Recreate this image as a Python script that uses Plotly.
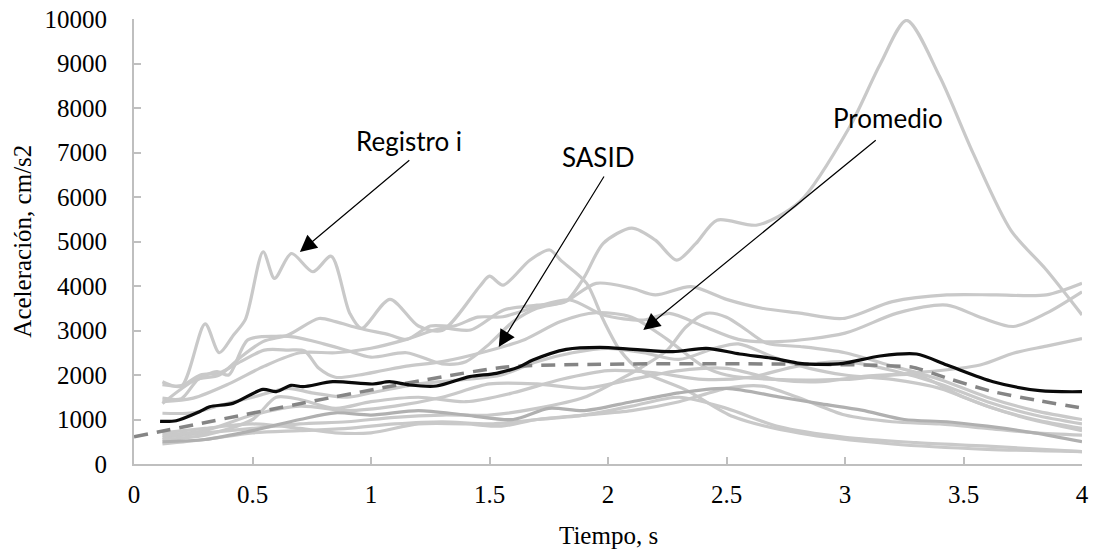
import plotly.graph_objects as go

# ---- data ----
# individual records (gray lines): time (s) and acceleration (cm/s2)
reg1_t = [0.12, 0.25, 0.4, 0.55, 0.7, 0.85, 1.0, 1.15, 1.3, 1.42, 1.56, 1.7, 1.82, 1.9, 1.98, 2.1, 2.2, 2.29, 2.37, 2.46, 2.63, 2.81, 3.02, 3.15, 3.26, 3.4, 3.54, 3.7, 3.85, 4.0]
reg1_a = [1400, 1480, 1800, 2200, 2500, 2500, 2600, 2800, 3050, 3010, 3460, 3570, 3650, 4200, 4960, 5300, 5030, 4580, 4950, 5480, 5370, 5900, 7580, 9000, 9970, 8700, 6990, 5250, 4360, 3350]

reg2_t = [0.12, 0.2, 0.3, 0.36, 0.42, 0.47, 0.545, 0.593, 0.664, 0.755, 0.832, 0.91, 0.96, 1.08, 1.2, 1.3, 1.46, 1.5, 1.557, 1.67, 1.754, 1.8, 1.91, 1.98, 2.05, 2.134, 2.33, 2.53, 2.81, 3.2, 3.6, 4.0]
reg2_a = [1850, 1750, 3150, 2500, 2900, 3250, 4770, 4170, 4730, 4320, 4670, 3390, 3050, 3700, 3100, 3000, 4000, 4220, 4020, 4580, 4810, 4580, 4060, 3240, 2560, 2110, 1660, 1060, 690, 450, 330, 280]

reg3_t = [0.12, 0.2, 0.27, 0.35, 0.4, 0.48, 0.6, 0.68, 0.8, 0.9, 1.0, 1.15, 1.3, 1.4, 1.5, 1.6, 1.7, 1.82, 1.95, 2.1, 2.2, 2.35, 2.5, 2.65, 2.81, 2.99, 3.2, 3.43, 3.64, 3.85, 4.0]
reg3_a = [1480, 1470, 1900, 2075, 2000, 2790, 2870, 2850, 2700, 2550, 2400, 2500, 2250, 2300, 2700, 3200, 3500, 3650, 4060, 3950, 3800, 3985, 3700, 3500, 3390, 3270, 3650, 3800, 3800, 3800, 4060]

reg4_t = [0.12, 0.2, 0.28, 0.36, 0.45, 0.55, 0.65, 0.72, 0.78, 0.85, 0.95, 1.05, 1.15, 1.3, 1.5, 1.65, 1.8, 1.95, 2.1, 2.25, 2.4, 2.5, 2.7, 3.0, 3.3, 3.5, 3.75, 4.0]
reg4_a = [1780, 1760, 2000, 2050, 2300, 2560, 2560, 2540, 2150, 1950, 2000, 2100, 2200, 2300, 2550, 2800, 3200, 3400, 3300, 2800, 2200, 2000, 1900, 1900, 2000, 1500, 1050, 750]

reg5_t = [0.12, 0.26, 0.36, 0.45, 0.544, 0.65, 0.78, 0.85, 0.95, 1.08, 1.15, 1.25, 1.35, 1.45, 1.557, 1.698, 1.84, 1.98, 2.15, 2.26, 2.4, 2.55, 2.72, 3.0, 3.22, 3.43, 3.57, 3.71, 3.85, 4.0]
reg5_a = [1360, 1890, 2000, 2400, 2750, 2900, 3270, 3200, 3050, 2900, 2800, 3100, 3100, 3300, 3310, 3535, 3685, 3348, 3236, 3386, 3100, 2800, 2750, 2940, 3390, 3570, 3300, 3090, 3390, 3870]

reg6_t = [0.12, 0.25, 0.35, 0.5, 0.65, 0.75, 0.9, 1.0, 1.2, 1.4, 1.55, 1.7, 1.85, 2.0, 2.15, 2.3, 2.45, 2.55, 2.7, 2.85, 3.0, 3.2, 3.4, 3.6, 3.8, 4.0]
reg6_a = [1140, 1150, 1300, 1500, 1700, 1600, 1500, 1600, 1800, 1900, 2000, 2300, 2500, 2600, 2500, 2350, 2600, 2700, 2400, 2150, 2000, 1900, 1700, 1300, 1000, 800]

reg7_t = [0.12, 0.3, 0.5, 0.7, 0.9, 1.1, 1.3, 1.5, 1.7, 1.9, 2.05, 2.15, 2.25, 2.33, 2.415, 2.5, 2.584, 2.67, 2.81, 3.0, 3.2, 3.4, 3.6, 3.8, 4.0]
reg7_a = [600, 700, 800, 900, 950, 1050, 1100, 1100, 1250, 1500, 1900, 2200, 2560, 3085, 3386, 3300, 3011, 2712, 2640, 2500, 2200, 1900, 1500, 1200, 1000]

reg8_t = [0.12, 0.3, 0.5, 0.7, 0.9, 1.1, 1.3, 1.5, 1.7, 1.9, 2.1, 2.3, 2.5, 2.72, 2.9, 3.06, 3.3, 3.57, 3.71, 3.85, 4.0]
reg8_a = [650, 750, 1100, 1300, 1200, 1300, 1500, 1800, 1800, 1700, 1900, 2100, 2150, 1890, 1850, 1960, 2050, 2225, 2490, 2650, 2820]

reg9_t = [0.12, 0.3, 0.5, 0.7, 0.85, 1.0, 1.2, 1.4, 1.6, 1.75, 1.9, 2.1, 2.3, 2.5, 2.72, 2.9, 3.07, 3.25, 3.43, 3.6, 3.8, 4.0]
reg9_a = [500, 550, 750, 1000, 1150, 1100, 1200, 1100, 1000, 1250, 1200, 1400, 1600, 1700, 1510, 1350, 1210, 1000, 950, 850, 700, 500]

reg10_t = [0.12, 0.3, 0.5, 0.7, 0.9, 1.1, 1.3, 1.5, 1.7, 1.9, 2.1, 2.3, 2.5, 2.72, 3.0, 3.3, 3.6, 4.0]
reg10_a = [450, 550, 700, 750, 800, 900, 950, 900, 1000, 1100, 1300, 1500, 1250, 840, 600, 480, 400, 280]

reg11_t = [0.12, 0.3, 0.5, 0.7, 0.85, 1.0, 1.2, 1.4, 1.55, 1.7, 1.9, 2.1, 2.3, 2.5, 2.65, 2.8, 3.0, 3.2, 3.4, 3.6, 3.8, 4.0]
reg11_a = [700, 800, 900, 800, 700, 700, 900, 900, 850, 1000, 1100, 1200, 1400, 1700, 1750, 1500, 1100, 950, 900, 800, 700, 650]

reg12_t = [0.12, 0.3, 0.5, 0.6, 0.7, 0.85, 1.0, 1.2, 1.4, 1.6, 1.8, 2.0, 2.2, 2.4, 2.6, 2.8, 3.0, 3.2, 3.4, 3.6, 3.8, 4.0]
reg12_a = [550, 650, 1000, 1500, 1450, 1250, 1400, 1500, 1400, 1600, 1900, 2100, 2050, 1900, 1950, 2200, 2300, 2100, 1800, 1400, 1100, 900]

# average of the records (black line)
prom_t = [0.11, 0.178, 0.276, 0.319, 0.417, 0.544, 0.6, 0.663, 0.713, 0.839, 1.008, 1.078, 1.163, 1.276, 1.416, 1.529, 1.627, 1.683, 1.824, 1.965, 2.106, 2.274, 2.415, 2.556, 2.697, 2.81, 2.9, 2.992, 3.148, 3.302, 3.43, 3.625, 3.822, 4.0]
prom_a = [960, 973, 1175, 1288, 1363, 1678, 1625, 1768, 1737, 1849, 1798, 1849, 1775, 1753, 1962, 2038, 2187, 2337, 2577, 2622, 2577, 2524, 2599, 2472, 2375, 2262, 2240, 2262, 2427, 2472, 2225, 1849, 1647, 1625]

# SASID design spectrum (dashed)
sasid_t = [0.0, 1.57, 3.28, 3.43, 3.62, 3.82, 4.0]
sasid_a = [610, 2180, 2180, 1930, 1630, 1420, 1260]

records = [
    (reg1_t, reg1_a), (reg2_t, reg2_a), (reg3_t, reg3_a), (reg4_t, reg4_a),
    (reg5_t, reg5_a), (reg6_t, reg6_a), (reg7_t, reg7_a), (reg8_t, reg8_a),
    (reg10_t, reg10_a), (reg11_t, reg11_a), (reg12_t, reg12_a),
]
dark_record = (reg9_t, reg9_a)

x_ticks = [0, 0.5, 1, 1.5, 2, 2.5, 3, 3.5, 4]
y_ticks = [0, 1000, 2000, 3000, 4000, 5000, 6000, 7000, 8000, 9000, 10000]

# annotations: (label, text x, text y, tail x, tail y, head x, head y)
labels = [
    ("Registro i", 1.16, 7260, 1.168, 6854, 0.70, 4764),
    ("SASID", 1.958, 6898, 1.987, 6494, 1.539, 2629),
    ("Promedio", 3.183, 7775, 3.136, 7303, 2.149, 3011),
]

fig = go.Figure()
light = "#C9C9C9"
for t, a in records:
    fig.add_trace(go.Scatter(x=t, y=a, mode="lines", line=dict(color=light, width=3.2, shape="spline", smoothing=0.8),
                             hoverinfo="skip", showlegend=False))
fig.add_trace(go.Scatter(x=dark_record[0], y=dark_record[1], mode="lines",
                         line=dict(color="#B0B0B0", width=3.2, shape="spline", smoothing=0.8),
                         hoverinfo="skip", showlegend=False))
fig.add_trace(go.Scatter(x=sasid_t, y=sasid_a, mode="lines",
                         line=dict(color="#858585", width=3.5, dash="14px,9px", shape="spline", smoothing=0.4),
                         showlegend=False, name="SASID"))
fig.add_trace(go.Scatter(x=prom_t, y=prom_a, mode="lines",
                         line=dict(color="#0A0A0A", width=3.2, shape="spline", smoothing=0.8),
                         showlegend=False, name="Promedio"))

serif = "'Liberation Serif', 'Times New Roman', serif"
sans = "Lato, 'Open Sans', sans-serif"

for lab, tx, ty, ax_, ay_, hx, hy in labels:
    fig.add_annotation(x=tx, y=ty, xref="x", yref="y", text=lab, showarrow=False,
                       xanchor="center", yanchor="middle",
                       font=dict(family=sans, size=26, color="black"))
    fig.add_annotation(x=hx, y=hy, ax=ax_, ay=ay_, xref="x", yref="y", axref="x", ayref="y",
                       text="", showarrow=True, arrowhead=2, arrowsize=2.8, arrowwidth=1.2,
                       arrowcolor="black", standoff=0, startstandoff=0)

fig.add_annotation(x=0.5, y=-0.16, xref="paper", yref="paper", text="Tiempo, s", showarrow=False,
                   xanchor="center", yanchor="middle",
                   font=dict(family=serif, size=25, color="black"))
fig.add_annotation(x=-0.118, y=0.5, xref="paper", yref="paper", text="Aceleración, cm/s2", showarrow=False,
                   xanchor="center", yanchor="middle",
                   textangle=-90, font=dict(family=serif, size=25, color="black"))

axis_col = "#BFBFBF"
fig.update_xaxes(range=[0, 4], tickvals=x_ticks, ticktext=[f"{v:g}" for v in x_ticks], automargin=False,
                 showgrid=False, zeroline=False, showline=True, linecolor=axis_col, linewidth=2,
                 ticks="inside", ticklen=7, tickcolor=axis_col, tickwidth=1.5, ticklabeloverflow="allow",
                 tickfont=dict(family=serif, size=25, color="black"), ticklabelstandoff=7)
fig.update_yaxes(range=[0, 10000], tickvals=y_ticks, ticktext=[str(v) for v in y_ticks], automargin=False,
                 showgrid=False, zeroline=False, showline=True, linecolor=axis_col, linewidth=2,
                 ticks="inside", ticklen=7, tickcolor=axis_col, tickwidth=1.5, ticklabeloverflow="allow",
                 tickfont=dict(family=serif, size=25, color="black"), ticklabelstandoff=20)
fig.update_layout(width=1095, height=550, margin=dict(l=134, r=13, t=19, b=86),
                  plot_bgcolor="white", paper_bgcolor="white", showlegend=False)

# remove the default 8px page margin so the figure fills the 1095x550 window exactly
fig.write_html("out.html", config={"displayModeBar": False},
               post_script="document.body.style.margin='0px';")
